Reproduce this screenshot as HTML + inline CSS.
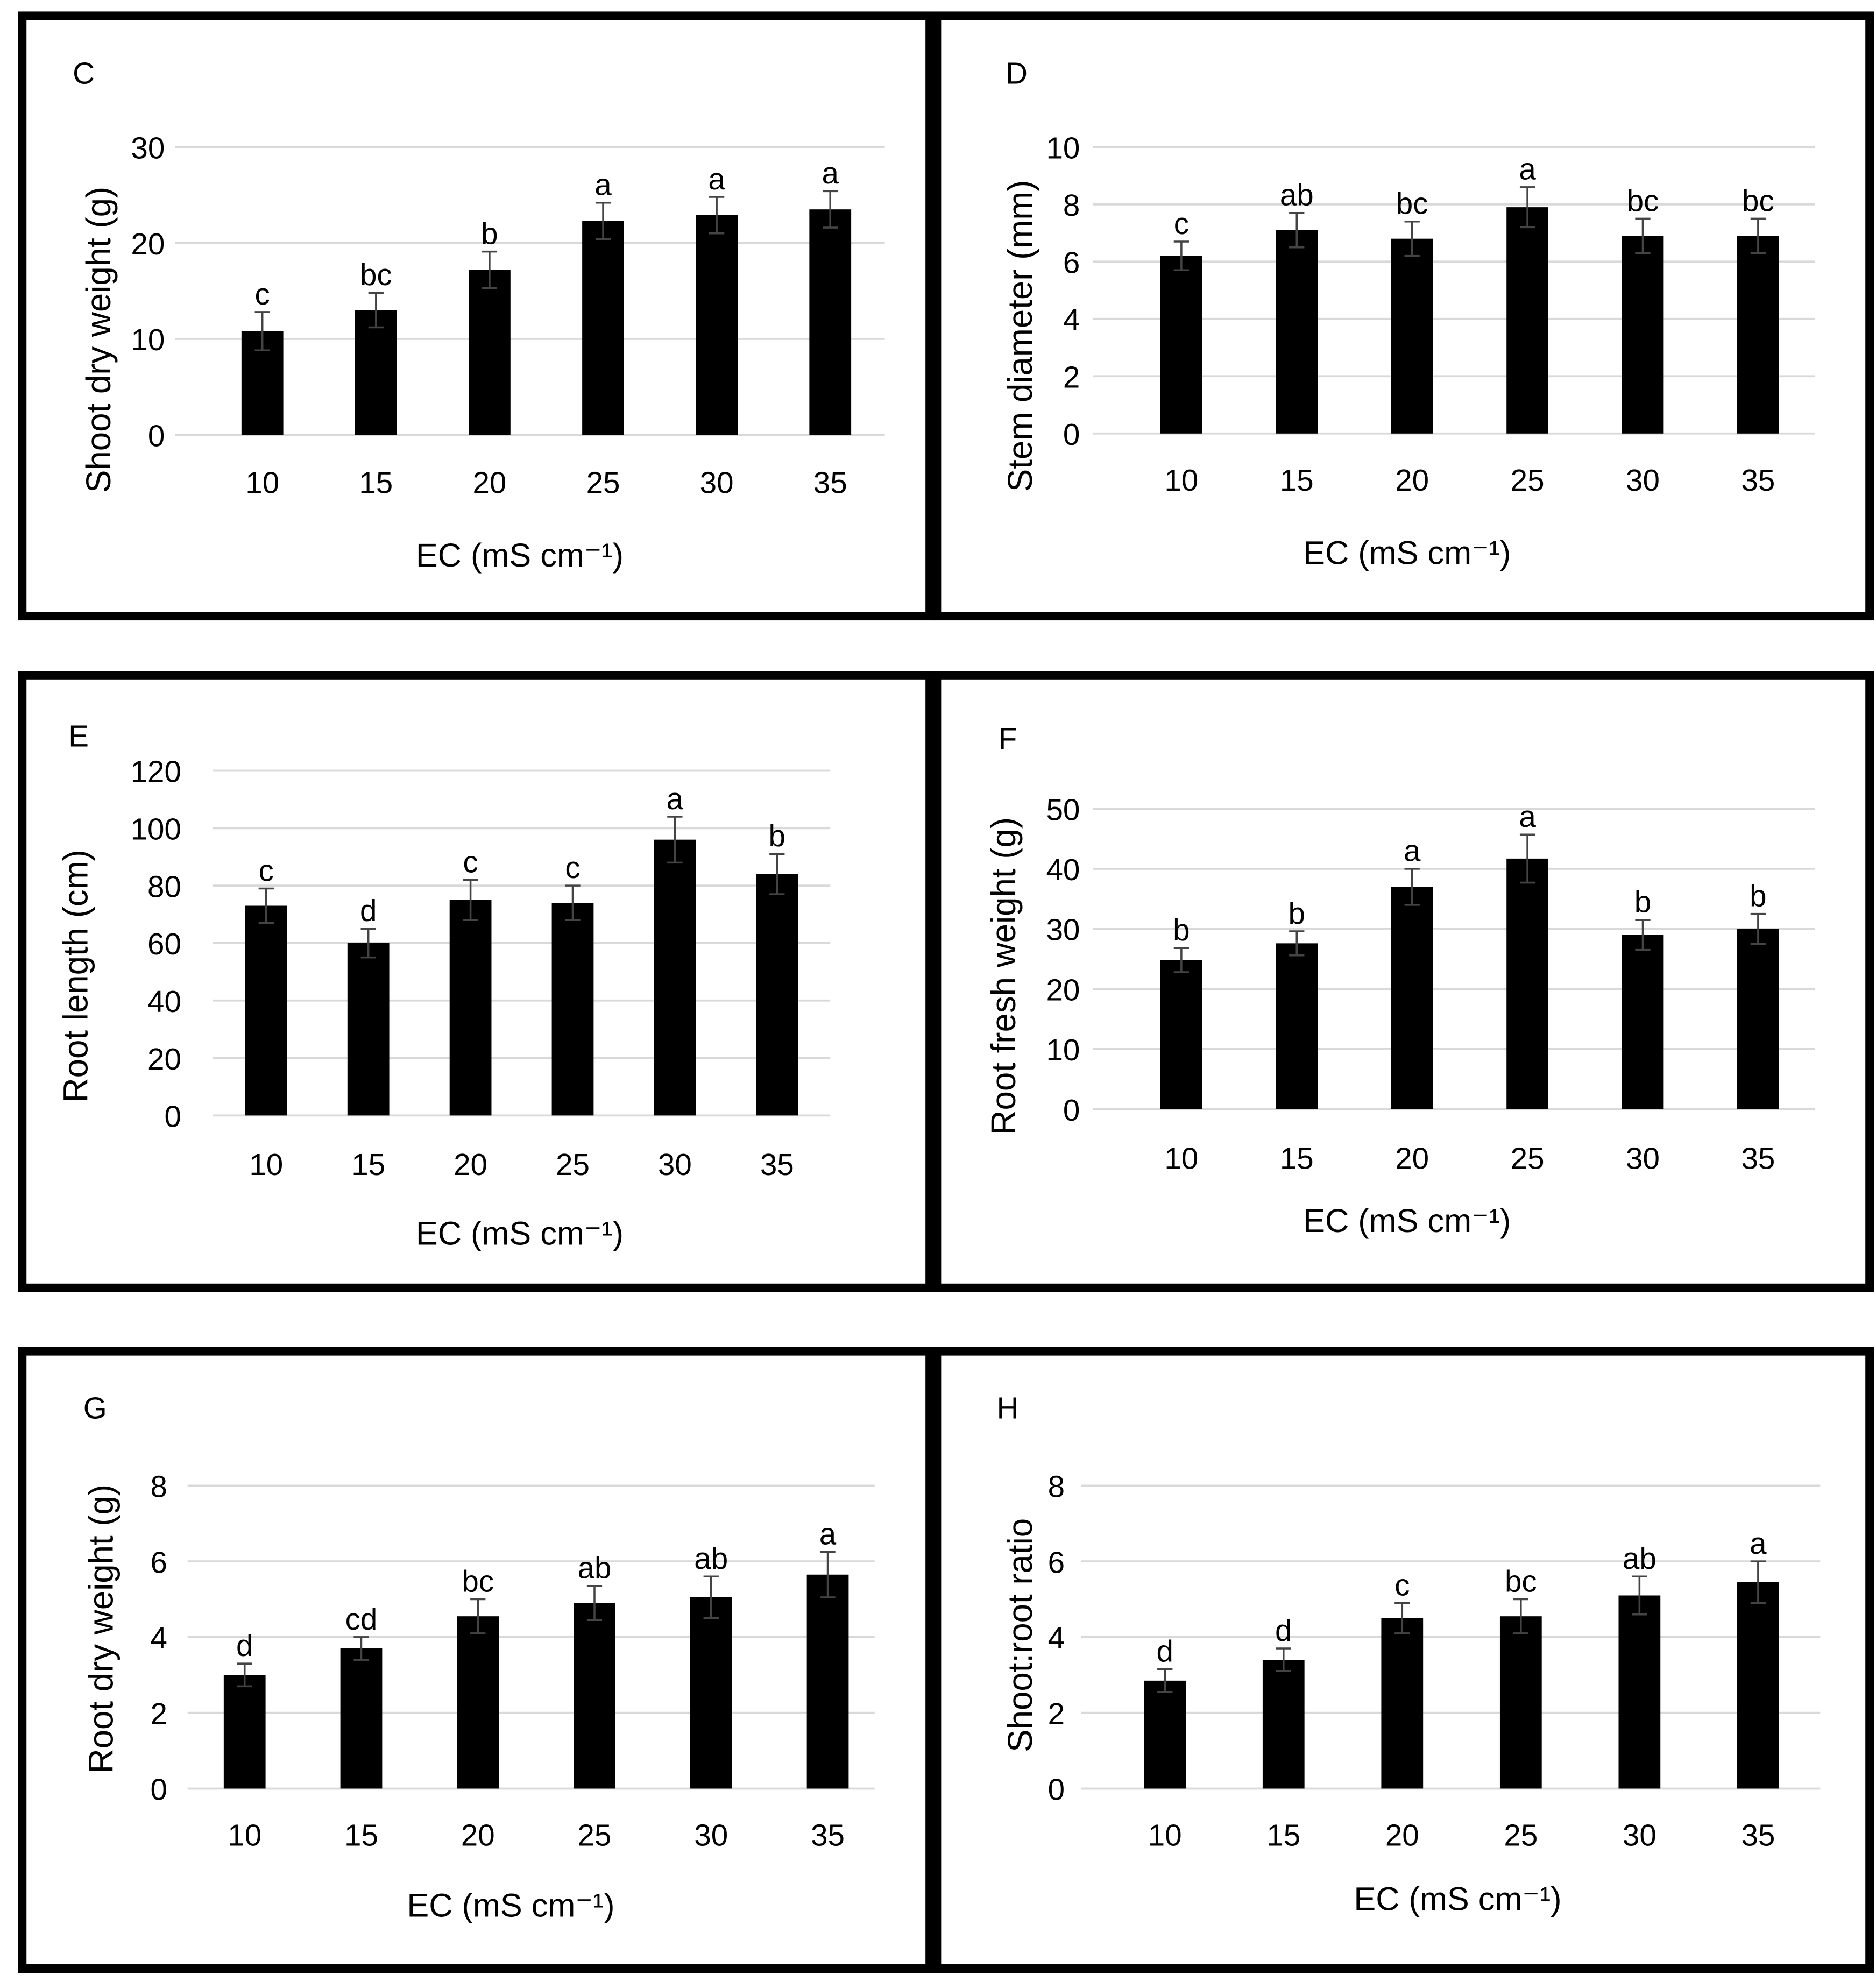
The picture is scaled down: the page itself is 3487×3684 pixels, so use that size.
<!DOCTYPE html>
<html><head><meta charset="utf-8"><style>
html,body{margin:0;padding:0;background:#fff;}
svg{display:block;}
text{font-family:"Liberation Sans",sans-serif;fill:#000;}
</style></head><body>
<svg id="fig" width="3487" height="3684" viewBox="0 0 1480 1563.6" preserveAspectRatio="none" xmlns="http://www.w3.org/2000/svg"></svg>
<script>
const categories = ["10","15","20","25","30","35"];
const valuesC = [10.8, 13.0, 17.2, 22.3, 22.9, 23.5];
const errorsC = [2.0, 1.8, 1.9, 1.9, 1.9, 1.9];
const lettersC = ["c","bc","b","a","a","a"];
const ticksC = [0,10,20,30];
const valuesD = [6.2, 7.1, 6.8, 7.9, 6.9, 6.9];
const errorsD = [0.5, 0.6, 0.6, 0.7, 0.6, 0.6];
const lettersD = ["c","ab","bc","a","bc","bc"];
const ticksD = [0,2,4,6,8,10];
const valuesE = [73, 60, 75, 74, 96, 84];
const errorsE = [6, 5, 7, 6, 8, 7];
const lettersE = ["c","d","c","c","a","b"];
const ticksE = [0,20,40,60,80,100,120];
const valuesF = [24.8, 27.6, 37.0, 41.7, 29.0, 30.0];
const errorsF = [2.0, 2.0, 3.0, 4.0, 2.5, 2.5];
const lettersF = ["b","b","a","a","b","b"];
const ticksF = [0,10,20,30,40,50];
const valuesG = [3.0, 3.7, 4.55, 4.9, 5.05, 5.65];
const errorsG = [0.3, 0.3, 0.45, 0.45, 0.55, 0.6];
const lettersG = ["d","cd","bc","ab","ab","a"];
const ticksG = [0,2,4,6,8];
const valuesH = [2.85, 3.4, 4.5, 4.55, 5.1, 5.45];
const errorsH = [0.3, 0.3, 0.4, 0.45, 0.5, 0.55];
const lettersH = ["d","d","c","bc","ab","a"];
const ticksH = [0,2,4,6,8];

const NS = "http://www.w3.org/2000/svg";
const svg = document.getElementById("fig");
function mk(tag, attrs, parent){
  const e = document.createElementNS(NS, tag);
  for (const k in attrs) e.setAttribute(k, attrs[k]);
  (parent||svg).appendChild(e);
  return e;
}

const panels = [
  {id:"c", label:"C", box:[17.5,12.5,733.5,486], x0:138, x1:698, y0:343, yTop:116, max:30, centers0:207, step:89.6, bw:33, tickY:380, xtX:410, xtY:437, ytX:78, ytY:268, lab:[66,57], title:"Shoot dry weight (g)", v:valuesC, e:errorsC, l:lettersC, t:ticksC, tx:130},
  {id:"d", label:"D", box:[739.5,12.5,1475,486], x0:862, x1:1432, y0:342, yTop:116, max:10, centers0:932, step:91, bw:33, tickY:378, xtX:1110, xtY:435, ytX:805, ytY:265, lab:[802,57], title:"Stem diameter (mm)", v:valuesD, e:errorsD, l:lettersD, t:ticksD, tx:852},
  {id:"e", label:"E", box:[17.5,533,733.5,1016], x0:168, x1:655, y0:880, yTop:608, max:120, centers0:210, step:80.6, bw:33, tickY:918, xtX:410, xtY:972, ytX:60, ytY:770, lab:[62,580], title:"Root length (cm)", v:valuesE, e:errorsE, l:lettersE, t:ticksE, tx:143},
  {id:"f", label:"F", box:[739.5,533,1475,1016], x0:862, x1:1432, y0:875, yTop:638, max:50, centers0:932, step:91, bw:33, tickY:913, xtX:1110, xtY:962, ytX:792, ytY:770, lab:[795,582], title:"Root fresh weight (g)", v:valuesF, e:errorsF, l:lettersF, t:ticksF, tx:852},
  {id:"g", label:"G", box:[17.5,1066,733.5,1553], x0:148, x1:690, y0:1411, yTop:1172, max:8, centers0:193, step:92, bw:33, tickY:1447, xtX:403, xtY:1502, ytX:80, ytY:1285, lab:[75,1110], title:"Root dry weight (g)", v:valuesG, e:errorsG, l:lettersG, t:ticksG, tx:132},
  {id:"h", label:"H", box:[739.5,1066,1475,1553], x0:853, x1:1436, y0:1411, yTop:1172, max:8, centers0:919, step:93.6, bw:33, tickY:1447, xtX:1150, xtY:1497, ytX:805, ytY:1290, lab:[795,1110], title:"Shoot:root ratio", v:valuesH, e:errorsH, l:lettersH, t:ticksH, tx:840}
];

panels.forEach(p => {
  const g = mk("g", {});
  
  
  const yS = v => p.y0 - (v / p.max) * (p.y0 - p.yTop);
  const xS = i => p.centers0 + i * p.step;
  const b = p.box;
  const frame = mk("rect", {x:b[0], y:b[1], width:b[2]-b[0], height:b[3]-b[1], fill:"none", stroke:"#000", "stroke-width":6.8}, g);
  
  
  const lab = mk("text", {x:p.lab[0], y:p.lab[1]+9, "font-size":24, "text-anchor":"middle"}, g);
  lab.textContent = p.label;
  
  
  p.t.forEach(t => {
    const gl = mk("line", {x1:p.x0, x2:p.x1, y1:yS(t), y2:yS(t), stroke:"#d9d9d9", "stroke-width":1.6}, g);
    
    
    const tl = mk("text", {x:p.tx, y:yS(t)+9, "font-size":24, "text-anchor":"end", fill:"#222"}, g);
    tl.textContent = t;
    
    
  });
  categories.forEach((c, i) => {
    const cx = xS(i);
    const top = yS(p.v[i]);
    const bar = mk("rect", {x:cx - p.bw/2, y:top, width:p.bw, height:p.y0 - top, fill:"#000"}, g);
    
    
    const hi = yS(p.v[i] + p.e[i]), lo = yS(p.v[i] - p.e[i]);
    const eb = mk("path", {d:`M${cx},${hi}V${lo}M${cx-6},${hi}H${cx+6}M${cx-6},${lo}H${cx+6}`, stroke:"#444", "stroke-width":1.5, fill:"none"}, g);
    
    
    const lt = mk("text", {x:cx, y:hi - 6, "font-size":24, "text-anchor":"middle"}, g);
    lt.textContent = p.l[i];
    
    
    const xl = mk("text", {x:cx, y:p.tickY + 9, "font-size":24, "text-anchor":"middle", fill:"#222"}, g);
    xl.textContent = c;
    
    
  });
  const xt = mk("text", {x:p.xtX, y:p.xtY + 10, "font-size":26, "text-anchor":"middle"}, g);
  xt.textContent = "EC (mS cm\u207B\u00B9)";
  
  
  const yt = mk("text", {x:0, y:0, "font-size":27, "text-anchor":"middle", transform:`translate(${p.ytX + 9},${p.ytY}) rotate(-90)`}, g);
  yt.textContent = p.title;
  
  
});
</script>
</body></html>
